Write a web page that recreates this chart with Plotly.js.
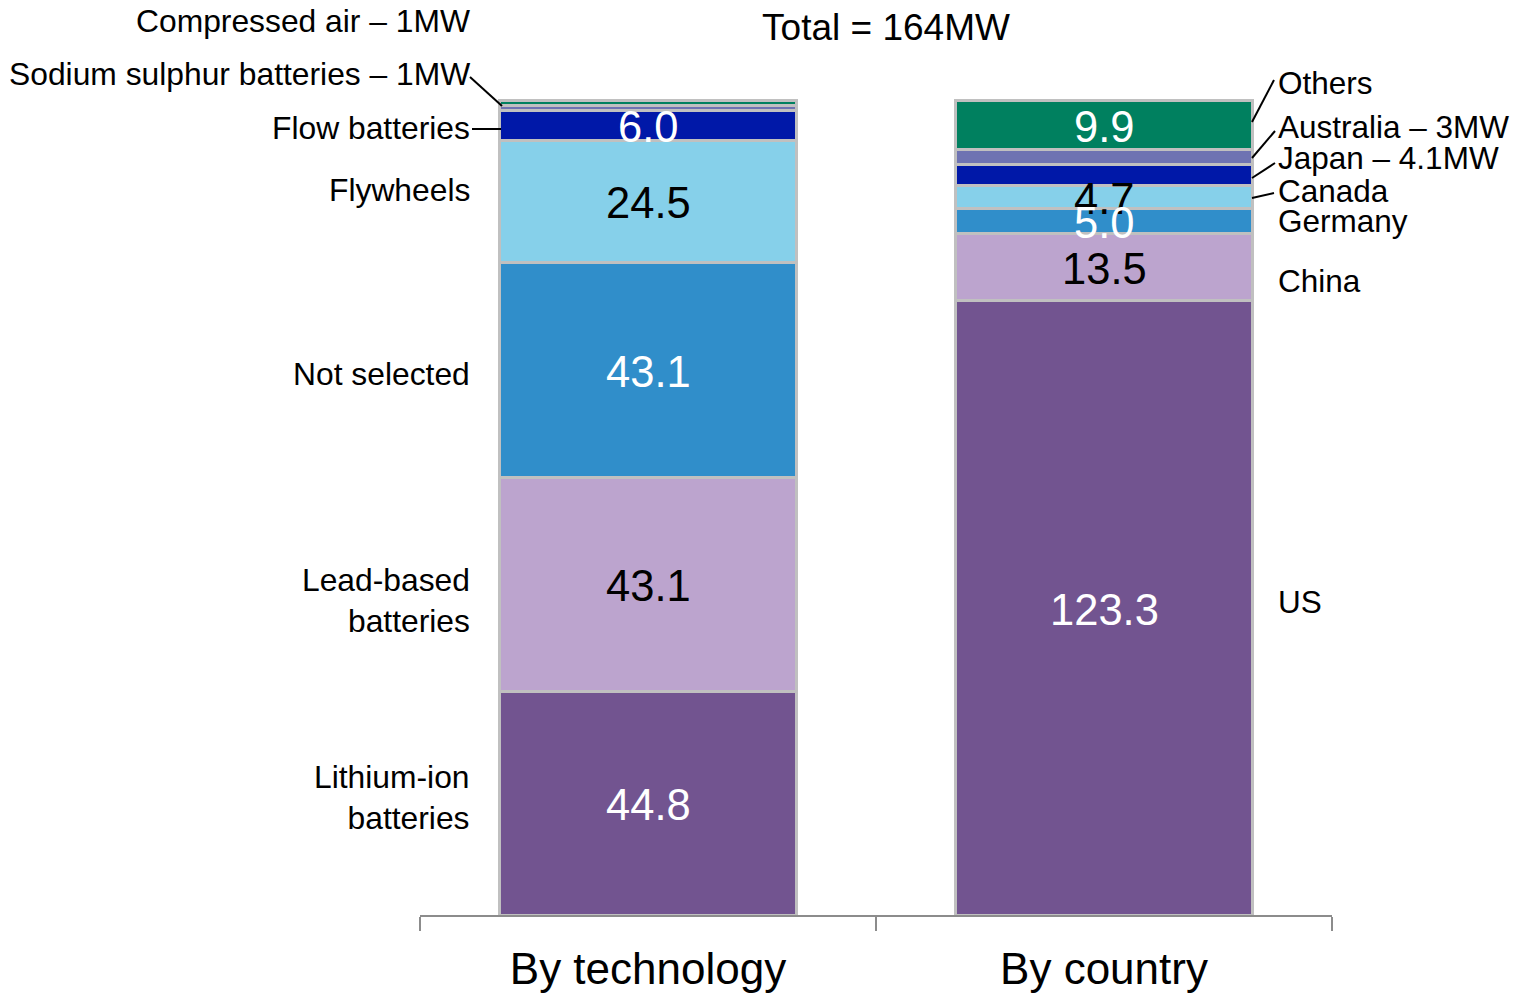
<!DOCTYPE html>
<html>
<head>
<meta charset="utf-8">
<script src="https://cdn.plot.ly/plotly-3.0.1.min.js"></script>
<style>html,body{margin:0;padding:0;background:#fff;}#chart{width:1518px;height:994px;}</style>
</head>
<body>
<div id="chart"></div>
<script>
// ---- data ----
const categories = ["By technology", "By country"];
const techNames = ["Lithium-ion batteries", "Lead-based batteries", "Not selected", "Flywheels", "Flow batteries", "Sodium sulphur batteries", "Compressed air"];
const techValues = [44.8, 43.1, 43.1, 24.5, 6.0, 1.0, 1.0];
const techShowValue = [true, true, true, true, true, false, false];
const countryNames = ["US", "China", "Germany", "Canada", "Japan", "Australia", "Others"];
const countryValues = [123.3, 13.5, 5.0, 4.7, 4.1, 3.0, 9.9];
const countryShowValue = [true, true, true, true, false, false, true];
const totalText = "Total = 164MW";

// ---- styles ----
const segColors = ["#725490", "#BCA4CE", "#308ECA", "#86D0EA", "#0018A8", "#6E73B2", "#00805F"];
const techTextColors = ["#fff", "#000", "#fff", "#000", "#fff", "#000", "#000"];
const countryTextColors = ["#fff", "#000", "#fff", "#000", "#fff", "#fff", "#fff"];
const FONT = "Liberation Sans, Arial, sans-serif";

// ---- layout geometry (pixels) ----
const W = 1518, H = 994;
const M = {l: 420, r: 186, t: 98, b: 79};
const plotW = W - M.l - M.r, plotH = H - M.t - M.b;
const px = x => (x - M.l) / plotW;
const py = y => (H - M.b - y) / plotH;

const traces = segColors.map((c, i) => ({
  type: "bar",
  x: categories,
  y: [techValues[i], countryValues[i]],
  marker: {color: c, line: {color: "#C0C0C0", width: 3}},
  hoverinfo: "skip",
  showlegend: false
}));

const annotations = [];

// value labels at segment midpoints (drawn top-down so lower labels sit on top)
function addValueLabels(cat, values, show, colors) {
  const mids = [];
  let cum = 0;
  values.forEach(v => { mids.push(cum + v / 2); cum += v; });
  for (let i = values.length - 1; i >= 0; i--) {
    if (!show[i]) continue;
    annotations.push({
      text: values[i].toFixed(1), xref: "x", yref: "y", x: cat, y: mids[i],
      xanchor: "center", yanchor: "middle", showarrow: false, yshift: -2,
      font: {family: FONT, size: 43.5, color: colors[i]}
    });
  }
}
addValueLabels(categories[0], techValues, techShowValue, techTextColors);
addValueLabels(categories[1], countryValues, countryShowValue, countryTextColors);

// category labels
const leftLabels = [
  ["Compressed air – 1MW", 21],
  ["Sodium sulphur batteries – 1MW", 74],
  ["Flow batteries", 128],
  ["Flywheels", 190],
  ["Not selected", 374],
  ["Lead-based<br>batteries", 600],
  ["Lithium-ion<br>batteries", 797]
];
const rightLabels = [
  ["Others", 83],
  ["Australia – 3MW", 127],
  ["Japan – 4.1MW", 158],
  ["Canada", 191],
  ["Germany", 221],
  ["China", 281],
  ["US", 602]
];
leftLabels.forEach(([t, y]) => annotations.push({
  text: t, xref: "paper", yref: "paper", x: px(472), y: py(y), xanchor: "right", yanchor: "middle",
  align: "right", showarrow: false, font: {family: FONT, size: 31.8, color: "#000"}
}));
rightLabels.forEach(([t, y]) => annotations.push({
  text: t, xref: "paper", yref: "paper", x: px(1276), y: py(y), xanchor: "left", yanchor: "middle",
  align: "left", showarrow: false, font: {family: FONT, size: 31.5, color: "#000"}
}));

const leaderLines = [
  [470, 77, 502, 106],
  [472, 129, 501, 129],
  [1252, 122, 1274, 80],
  [1252, 158, 1275, 131],
  [1252, 178, 1275, 163],
  [1252, 198, 1274, 193]
];
const shapes = leaderLines.map(([x0, y0, x1, y1]) => ({
  type: "line", xref: "paper", yref: "paper", x0: px(x0), y0: py(y0), x1: px(x1), y1: py(y1),
  line: {color: "#000", width: 2}
}));

const layout = {
  width: W, height: H,
  margin: M,
  paper_bgcolor: "#fff", plot_bgcolor: "#fff",
  barmode: "stack",
  bargap: 0.35,
  hovermode: false,
  title: {text: totalText, x: px(886), xref: "paper", xanchor: "center", y: 1 - 27 / H, yanchor: "middle",
          font: {family: FONT, size: 37, color: "#000"}},
  xaxis: {
    type: "category", range: [-0.5, 1.5], fixedrange: true,
    showline: true, linecolor: "#8C8C8C", linewidth: 2,
    ticks: "outside", tickson: "boundaries", ticklen: 14, tickcolor: "#8C8C8C", tickwidth: 2,
    ticklabelstandoff: 14,
    tickfont: {family: FONT, size: 44, color: "#000"},
    showgrid: false, zeroline: false
  },
  yaxis: {range: [0, 164], visible: false, showgrid: false, zeroline: false, fixedrange: true},
  annotations: annotations,
  shapes: shapes,
  font: {family: FONT}
};

Plotly.newPlot("chart", traces, layout, {displayModeBar: false, staticPlot: true});
</script>
</body>
</html>
